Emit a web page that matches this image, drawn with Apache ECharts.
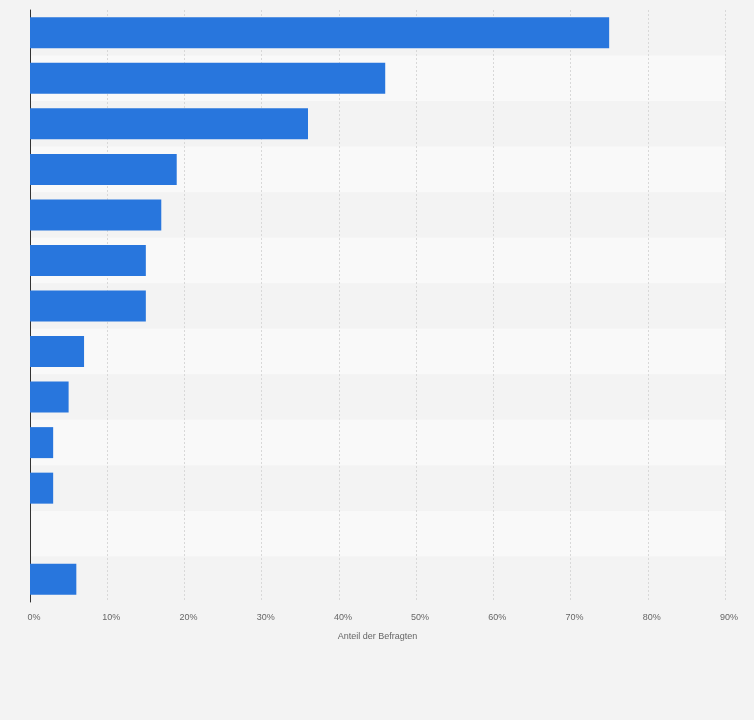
<!DOCTYPE html><html><head><meta charset="utf-8"><script src="https://cdn.jsdelivr.net/npm/echarts@6/dist/echarts.min.js"></script>
<style>html,body{margin:0;background:#f3f3f3}#c{width:754px;height:720px}</style></head><body><div id="c"></div><script>
const categories=['A','B','C','D','E','F','G','H','I','J','K','L','M'];
const values=[75,46,36,19,17,15,15,7,5,3,3,0,6];
const xTicks=[0,10,20,30,40,50,60,70,80,90];
const c=echarts.init(document.getElementById('c'));
c.setOption({backgroundColor:'#f3f3f3',animation:false,
grid:{left:30,right:29,top:10,bottom:118},
xAxis:{type:'value',min:0,max:90,interval:10,name:'Anteil der Befragten',nameLocation:'middle',nameGap:30,
nameTextStyle:{color:'#666',fontSize:9,fontFamily:'Arial'},
axisLabel:{formatter:'{value}%',color:'#666',fontSize:9,fontFamily:'Arial',margin:11,padding:[0,0,0,8]},
splitLine:{lineStyle:{color:'#d8d8d8',type:[2,2]}},axisLine:{show:false},axisTick:{show:false}},
yAxis:{type:'category',data:categories,inverse:true,axisLabel:{show:false},axisTick:{show:false},
axisLine:{lineStyle:{color:'#333',width:1}},
splitArea:{show:true,areaStyle:{color:['#f3f3f3','#f9f9f9']}}},
series:[{type:'bar',data:values,barWidth:31,itemStyle:{color:'#2876dd'}}]});
</script></body></html>
